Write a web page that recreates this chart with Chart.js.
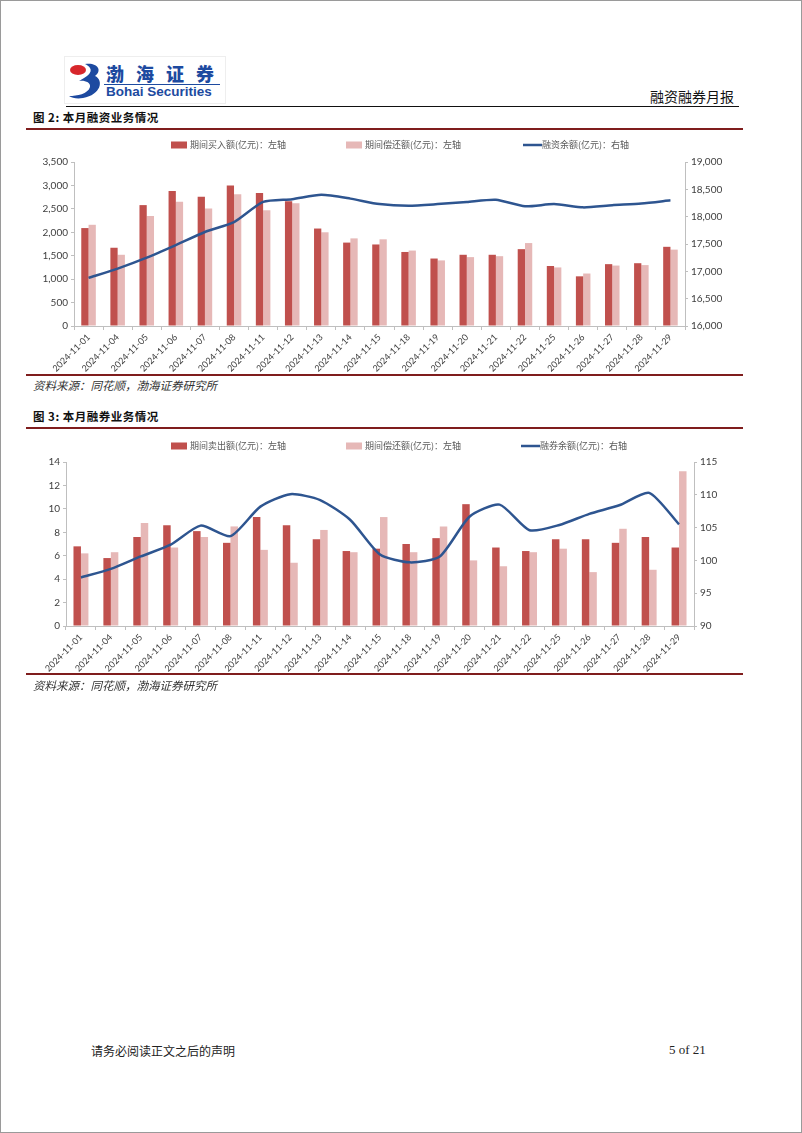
<!DOCTYPE html>
<html>
<head>
<meta charset="utf-8">
<script src="https://cdn.jsdelivr.net/npm/chart.js@4"></script>
<style>
  html, body { margin: 0; padding: 0; background: #fff; }
  #page { position: relative; width: 800px; height: 1131px; border: 1px solid #9a9a9a; overflow: hidden; }
  .abs { position: absolute; }
  .cn { font-family: "Noto Sans CJK SC", sans-serif; }
  .title { left: 32px; font-size: 11.5px; font-weight: bold; color: #111; letter-spacing: 0.5px; }
  .src { left: 32px; font-size: 11.5px; font-style: italic; color: #333; }
  .redline { left: 25px; width: 717px; height: 2px; background: #7f1d1d; }
  .box { left: 25px; width: 717px; }
</style>
</head>
<body>
<div id="page">
  <!-- header -->
  <div class="abs" style="left:63px;top:55px;width:160px;height:46px;border:1px solid #eee;"></div>
  <svg class="abs" style="left:66px;top:60px" width="38" height="40" viewBox="0 0 38 40">
    <ellipse cx="11" cy="9" rx="8" ry="5" fill="#d7262b"/>
    <path d="M18 3 C30 1 36 9 28 15 C37 19 34 34 16 37 C10 38 5 37 2 35 C10 35 21 33 23 26 C24 21 17 19 12 20 C19 16 26 12 23 7 C22 5 20 4 18 3 Z" fill="#1d4aa0"/>
  </svg>
  <div class="abs cn" style="left:105px;top:59px;font-size:18px;font-weight:900;color:#1d4aa0;letter-spacing:12px;">渤海证券</div>
  <div class="abs" style="left:103px;top:83px;width:116px;height:1px;background:#1d4aa0;"></div>
  <div class="abs" style="left:105px;top:83px;font-family:'Liberation Sans',sans-serif;font-size:13.5px;font-weight:bold;color:#1d4aa0;">Bohai Securities</div>
  <div class="abs cn" style="left:649px;top:85px;font-size:14px;color:#111;">融资融券月报</div>
  <div class="abs" style="left:65px;top:105px;width:673px;height:1px;background:#111;"></div>

  <!-- figure 2 -->
  <div class="abs cn title" style="top:108px;">图 2: 本月融资业务情况</div>
  <div class="abs redline" style="top:127px;"></div>
  <div class="abs box" style="top:132px;height:242px;"><canvas id="c2"></canvas></div>
  <div class="abs redline" style="top:373px;"></div>
  <div class="abs cn src" style="top:376px;">资料来源：同花顺，渤海证券研究所</div>

  <!-- figure 3 -->
  <div class="abs cn title" style="top:407px;">图 3: 本月融券业务情况</div>
  <div class="abs redline" style="top:426px;"></div>
  <div class="abs box" style="top:431px;height:242px;"><canvas id="c3"></canvas></div>
  <div class="abs redline" style="top:672px;"></div>
  <div class="abs cn src" style="top:676px;">资料来源：同花顺，渤海证券研究所</div>

  <!-- footer -->
  <div class="abs cn" style="left:90px;top:1041px;font-size:12px;color:#222;">请务必阅读正文之后的声明</div>
  <div class="abs" style="left:668px;top:1041px;font-family:'Liberation Serif',serif;font-size:13px;color:#222;">5 of 21</div>
</div>

<script>
const dates = ['2024-11-01','2024-11-04','2024-11-05','2024-11-06','2024-11-07','2024-11-08','2024-11-11',
  '2024-11-12','2024-11-13','2024-11-14','2024-11-15','2024-11-18','2024-11-19','2024-11-20','2024-11-21',
  '2024-11-22','2024-11-25','2024-11-26','2024-11-27','2024-11-28','2024-11-29'];

// 融资 (figure 2)
const marginBuy = [2090, 1670, 2580, 2880, 2760, 3000, 2840, 2660, 2080, 1780, 1740, 1580, 1440, 1520, 1520, 1640, 1280, 1060, 1320, 1340, 1690];
const marginRepay = [2160, 1520, 2350, 2650, 2510, 2810, 2470, 2620, 2000, 1870, 1850, 1610, 1400, 1470, 1490, 1770, 1250, 1120, 1290, 1300, 1630];
const marginBalance = [16880, 17050, 17250, 17480, 17720, 17900, 18270, 18320, 18400, 18330, 18230, 18200, 18230, 18270, 18310, 18190, 18230, 18170, 18210, 18240, 18300];

// 融券 (figure 3)
const shortSell = [6.8, 5.8, 7.6, 8.6, 8.1, 7.1, 9.3, 8.6, 7.4, 6.4, 6.6, 7.0, 7.5, 10.4, 6.7, 6.4, 7.4, 7.4, 7.1, 7.6, 6.7];
const shortRepay = [6.2, 6.3, 8.8, 6.7, 7.6, 8.5, 6.5, 5.4, 8.2, 6.3, 9.3, 6.3, 8.5, 5.6, 5.1, 6.3, 6.6, 4.6, 8.3, 4.8, 13.2];
const shortBalance = [97.4, 98.7, 100.6, 102.4, 105.3, 103.7, 108.2, 110.1, 109.2, 106.2, 100.9, 99.7, 100.6, 106.7, 108.5, 104.6, 105.4, 107.1, 108.4, 110.3, 105.5];

const RED = '#c0504d', PINK = '#e6b8b7', BLUE = '#2e5590', AXIS = '#bfbfbf', TXT = '#404040';
const TICKFONT = '"Lato", "Liberation Sans", sans-serif';

// legend drawn at fixed spots, like the Excel original
const fixedLegend = {
  id: 'fixedLegend',
  afterDraw(chart, args, opts) {
    const ctx = chart.ctx;
    ctx.save();
    ctx.font = '9px "Noto Sans CJK SC"';
    ctx.textBaseline = 'middle';
    chart.data.datasets.forEach((ds, i) => {
      const x = opts.x[i], y = opts.y;
      if (ds.type === 'line') {
        ctx.strokeStyle = ds.borderColor;
        ctx.lineWidth = 2.5;
        ctx.beginPath(); ctx.moveTo(x, y); ctx.lineTo(x + 19, y); ctx.stroke();
      } else {
        ctx.fillStyle = ds.backgroundColor;
        ctx.fillRect(x, y - 3.5, 16, 7);
      }
      ctx.fillStyle = '#595959';
      ctx.fillText(ds.label, x + 19, y);
    });
    ctx.restore();
  }
};

function makeChart(id, labels, barA, barB, line, names, cfg) {
  return new Chart(document.getElementById(id), {
    data: {
      labels: labels,
      datasets: [
        { type: 'bar', label: names[0], data: barA, backgroundColor: RED, yAxisID: 'y', order: 2,
          categoryPercentage: 0.5, barPercentage: 1.0 },
        { type: 'bar', label: names[1], data: barB, backgroundColor: PINK, yAxisID: 'y', order: 2,
          categoryPercentage: 0.5, barPercentage: 1.0 },
        { type: 'line', label: names[2], data: line, borderColor: BLUE, backgroundColor: BLUE, borderWidth: 2.5,
          pointRadius: 0, tension: 0.22, yAxisID: 'y1', order: 1 }
      ]
    },
    options: {
      responsive: true,
      maintainAspectRatio: false,
      animation: false,
      layout: { padding: { top: cfg.top, left: 0, right: 0, bottom: 0 } },
      plugins: {
        legend: { display: false },
        tooltip: { enabled: false },
        fixedLegend: { x: cfg.legendX, y: cfg.legendY }
      },
      scales: {
        x: {
          grid: { offset: true, drawOnChartArea: false, tickLength: 4, color: AXIS },
          border: { color: AXIS },
          ticks: { autoSkip: false, minRotation: 45, maxRotation: 45, padding: 2, color: TXT,
                   font: { family: TICKFONT, size: 9 } },
          afterFit: s => { s.height = cfg.xh; }
        },
        y: {
          position: 'left', min: cfg.left[0], max: cfg.left[1],
          ticks: { stepSize: cfg.left[2], color: TXT, padding: 3,
                   font: { family: TICKFONT, size: 10 },
                   callback: v => v.toLocaleString('en-US') },
          grid: { drawOnChartArea: false, tickLength: 3, color: AXIS },
          border: { color: AXIS },
          afterFit: s => { s.width = cfg.lw; }
        },
        y1: {
          position: 'right', min: cfg.right[0], max: cfg.right[1],
          ticks: { stepSize: cfg.right[2], color: TXT, padding: 3,
                   font: { family: TICKFONT, size: 10 },
                   callback: v => v.toLocaleString('en-US') },
          grid: { drawOnChartArea: false, tickLength: 3, color: AXIS },
          border: { color: AXIS },
          afterFit: s => { s.width = cfg.rw; }
        }
      }
    },
    plugins: [fixedLegend]
  });
}

makeChart('c2', dates, marginBuy, marginRepay, marginBalance,
  ['期间买入额(亿元)：左轴', '期间偿还额(亿元)：左轴', '融资余额(亿元)：右轴'],
  { top: 29, xh: 49, lw: 48, rw: 58, left: [0, 3500, 500], right: [16000, 19000, 500],
    legendX: [145, 320, 497], legendY: 12 });

makeChart('c3', dates, shortSell, shortRepay, shortBalance,
  ['期间卖出额(亿元)：左轴', '期间偿还额(亿元)：左轴', '融券余额(亿元)：右轴'],
  { top: 30, xh: 48, lw: 40, rw: 49, left: [0, 14, 2], right: [90, 115, 5],
    legendX: [145, 320, 495], legendY: 14 });
</script>
</body>
</html>
